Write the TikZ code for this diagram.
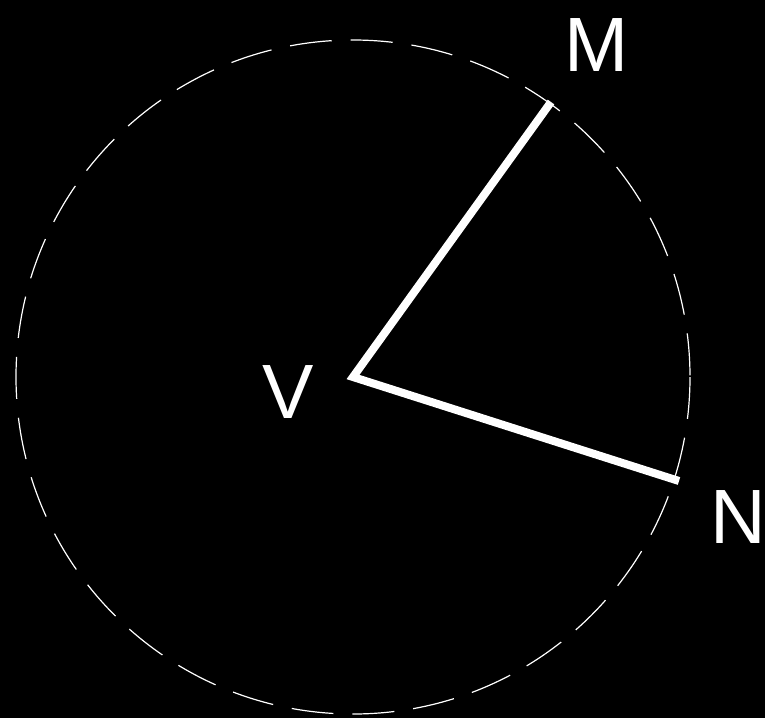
\documentclass[tikz,border=0pt]{standalone}
\usepackage{fontspec}
\setmainfont{Liberation Sans}
\usetikzlibrary{positioning}

\begin{document}
\begin{tikzpicture}[
  x=1pt, y=-1pt,
  rim/.style={draw=white, line width=1.2pt, dash pattern=on 42pt off 19pt},
  arm/.style={draw=white, line width=8pt, line join=miter, line cap=butt},
  lab/.style={text=white, inner sep=0pt, font=\fontsize{77}{80}\selectfont}
]
\fill[black] (0,0) rectangle (765,718);
\useasboundingbox (0,0) rectangle (765,718);

\coordinate (v) at (353,377);
\coordinate (m) at (551,102);
\coordinate (n) at (679,481);

\draw[rim] (v) circle[radius=337];
\draw[arm] (m) -- (v) -- (n);

\node[lab] (vlab) at (288,392) {V};
\node[lab] (mlab) at (597,45) {M};
\node[lab] (nlab) at (738,517) {N};
\end{tikzpicture}
\end{document}
